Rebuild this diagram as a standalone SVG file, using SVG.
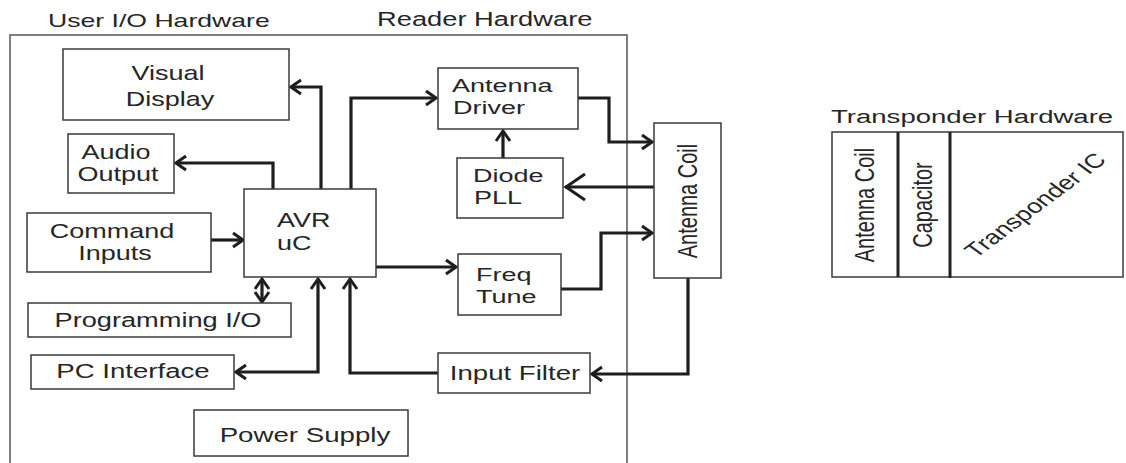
<svg xmlns="http://www.w3.org/2000/svg" width="1126" height="463" viewBox="0 0 1126 463">
<style>
text{font-family:"Liberation Sans",Arial,sans-serif;font-size:20px;fill:#262626}
.m{text-anchor:middle}
.s{font-size:18.5px}
.box{fill:#fff;stroke:#3a3a3a;stroke-width:1.5}
.frame{fill:none;stroke:#555;stroke-width:1.5}
.c{fill:none;stroke:#1e1e1e;stroke-width:3.2;stroke-linejoin:miter}
.div{stroke:#222;stroke-width:3}
</style>
<defs>
<marker id="a" viewBox="0 0 14 18" refX="12" refY="9" markerWidth="14" markerHeight="18" markerUnits="userSpaceOnUse" orient="auto-start-reverse">
<path d="M2,2 L12,9 L2,16" fill="none" stroke="#1e1e1e" stroke-width="3"/>
</marker>
<marker id="b" viewBox="0 0 24 30" refX="22" refY="15" markerWidth="24" markerHeight="30" markerUnits="userSpaceOnUse" orient="auto">
<path d="M2,2 L21,15 L2,28" fill="none" stroke="#1e1e1e" stroke-width="3"/>
</marker>
</defs>

<rect class="frame" x="10" y="35" width="617" height="440"/>
<text transform="translate(48,27) scale(1.4,1)" style="font-size:19px">User I/O Hardware</text>
<text transform="translate(377,26) scale(1.4,1)" style="font-size:19.5px">Reader Hardware</text>

<g id="connectors">
<path class="c" d="M321,189 V87 H291" marker-end="url(#a)"/>
<path class="c" d="M273,189 V163 H176" marker-end="url(#a)"/>
<path class="c" d="M351,189 V98 H436" marker-end="url(#a)"/>
<path class="c" d="M211,240 H243" marker-end="url(#a)"/>
<path class="c" d="M262,279 V302" marker-start="url(#a)" marker-end="url(#a)"/>
<path class="c" d="M318,279 V372 H236" marker-start="url(#a)" marker-end="url(#a)"/>
<path class="c" d="M438,373 H350 V279" marker-end="url(#a)"/>
<path class="c" d="M376,267 H456" marker-end="url(#a)"/>
<path class="c" d="M578,98 H609 V142 H652" marker-end="url(#a)"/>
<path class="c" d="M503,158 V131" marker-end="url(#a)"/>
<path class="c" d="M654,187 H565" marker-end="url(#b)"/>
<path class="c" d="M561,289 H601 V233 H652" marker-end="url(#a)"/>
<path class="c" d="M688,278 V374 H592" marker-end="url(#a)"/>
</g>

<g id="visual-display">
<rect class="box" x="63" y="49" width="226" height="71"/>
<text class="m" transform="translate(168,80) scale(1.35,1)">Visual</text>
<text class="m" transform="translate(170,106) scale(1.35,1)">Display</text>
</g>
<g id="audio-output">
<rect class="box" x="68" y="134" width="106" height="59"/>
<text class="m" transform="translate(116,159) scale(1.35,1)">Audio</text>
<text class="m" transform="translate(118,181) scale(1.35,1)">Output</text>
</g>
<g id="command-inputs">
<rect class="box" x="27" y="213" width="184" height="59"/>
<text class="m" transform="translate(112,238) scale(1.35,1)">Command</text>
<text class="m" transform="translate(115,260) scale(1.35,1)">Inputs</text>
</g>
<g id="avr-uc">
<rect class="box" x="244" y="189" width="132" height="88"/>
<text transform="translate(277,227) scale(1.35,1)">AVR</text>
<text transform="translate(277,250) scale(1.35,1)">uC</text>
</g>
<g id="programming-io">
<rect class="box" x="28" y="303" width="263" height="34"/>
<text class="m" transform="translate(158,327) scale(1.36,1)">Programming I/O</text>
</g>
<g id="pc-interface">
<rect class="box" x="31" y="355" width="203" height="34"/>
<text class="m" transform="translate(133,378) scale(1.38,1)">PC Interface</text>
</g>
<g id="power-supply">
<rect class="box" x="194" y="410" width="214" height="46"/>
<text class="m" transform="translate(305,442) scale(1.35,1)" style="font-size:20.5px">Power Supply</text>
</g>
<g id="antenna-driver">
<rect class="box" x="438" y="68" width="140" height="61"/>
<text class="s" transform="translate(452,92) scale(1.46,1)">Antenna</text>
<text class="s" transform="translate(453,114) scale(1.46,1)">Driver</text>
</g>
<g id="diode-pll">
<rect class="box" x="457" y="158" width="106" height="60"/>
<text class="s" transform="translate(473,182) scale(1.46,1)">Diode</text>
<text class="s" transform="translate(474,204) scale(1.46,1)">PLL</text>
</g>
<g id="freq-tune">
<rect class="box" x="458" y="254" width="103" height="61"/>
<text class="s" transform="translate(476,281) scale(1.46,1)">Freq</text>
<text class="s" transform="translate(476,303) scale(1.46,1)">Tune</text>
</g>
<g id="input-filter">
<rect class="box" x="438" y="353" width="152" height="40"/>
<text class="m" transform="translate(515,380) scale(1.38,1)">Input Filter</text>
</g>
<g id="antenna-coil">
<rect class="box" x="654" y="123" width="67" height="155"/>
<text class="m" transform="translate(688,201) scale(1.35,1) rotate(-90)" x="0" y="7">Antenna Coil</text>
</g>

<g id="transponder-hardware">
<text transform="translate(831,123) scale(1.45,1)" style="font-size:19px">Transponder Hardware</text>
<rect class="box" x="832" y="132" width="291" height="145"/>
<line class="div" x1="898" y1="132" x2="898" y2="277"/>
<line class="div" x1="950" y1="132" x2="950" y2="278"/>
<text class="m" transform="translate(865,205) scale(1.35,1) rotate(-90)" x="0" y="7">Antenna Coil</text>
<text class="m" transform="translate(923,205) scale(1.35,1) rotate(-90)" x="0" y="7">Capacitor</text>
<text class="m" transform="translate(1035,205) scale(1.35,1) rotate(-45)" x="0" y="7">Transponder IC</text>
</g>
</svg>
